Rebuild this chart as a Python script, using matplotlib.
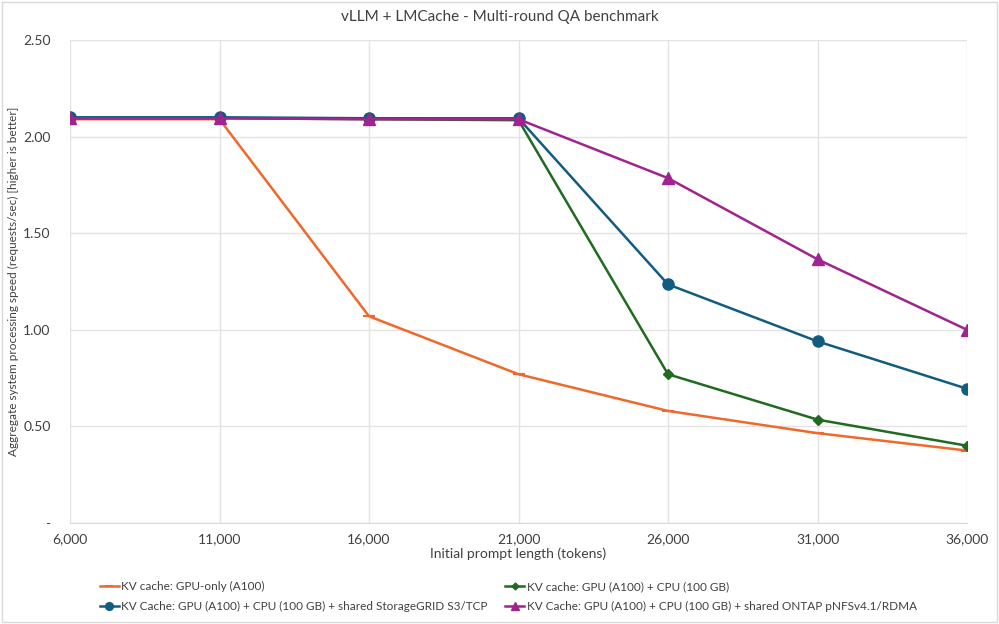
import matplotlib.pyplot as plt
from matplotlib.ticker import FuncFormatter

# Data
prompt_len = [6000, 11000, 16000, 21000, 26000, 31000, 36000]
gpu_only = [2.09, 2.09, 1.07, 0.77, 0.58, 0.465, 0.375]
gpu_cpu = [2.095, 2.095, 2.09, 2.085, 0.77, 0.535, 0.40]
gpu_cpu_s3 = [2.10, 2.10, 2.095, 2.095, 1.235, 0.94, 0.695]
gpu_cpu_ontap = [2.095, 2.095, 2.09, 2.09, 1.785, 1.365, 1.0]

labels = [
    "KV cache: GPU-only (A100)",
    "KV cache: GPU (A100) + CPU (100 GB)",
    "KV Cache: GPU (A100) + CPU (100 GB) + shared StorageGRID S3/TCP",
    "KV Cache: GPU (A100) + CPU (100 GB) + shared ONTAP pNFSv4.1/RDMA",
]

plt.rcParams["font.family"] = ["Lato", "DejaVu Sans"]
txt_col = "#404040"

fig = plt.figure(figsize=(9.99, 6.24), dpi=100)
ax = fig.add_axes([70 / 999, 1 - 523 / 624, 897 / 999, 483 / 624])

l1, = ax.plot(prompt_len, gpu_only, color="#F0682A", lw=1.8, marker="_", ms=8, mew=1.5, label=labels[0])
l2, = ax.plot(prompt_len, gpu_cpu, color="#1F6B1F", lw=1.8, marker="D", ms=5, label=labels[1])
l3, = ax.plot(prompt_len, gpu_cpu_s3, color="#125C82", lw=1.8, marker="o", ms=8, label=labels[2])
l4, = ax.plot(prompt_len, gpu_cpu_ontap, color="#A0238F", lw=1.8, marker="^", ms=8, label=labels[3])

ax.set_xlim(6000, 36000)
ax.set_ylim(0, 2.5)
ax.set_xticks(prompt_len)
ax.set_yticks([0, 0.5, 1.0, 1.5, 2.0, 2.5])
ax.xaxis.set_major_formatter(FuncFormatter(lambda v, p: f"{int(v):,}"))
ax.yaxis.set_major_formatter(FuncFormatter(lambda v, p: "-" if v == 0 else f"{v:.2f}"))
ax.grid(True, color="#E3E3E3", lw=1)
ax.set_axisbelow(True)
for s in ["top", "right", "left"]:
    ax.spines[s].set_visible(False)
ax.spines["bottom"].set_color("#D9D9D9")
ax.tick_params(length=0, labelsize=10, colors=txt_col, pad=14)
ax.tick_params(axis="x", pad=7)

ax.set_xlabel("Initial prompt length (tokens)", fontsize=10, color=txt_col, labelpad=2)
ax.set_ylabel("Aggregate system processing speed (requests/sec) [higher is better]",
              fontsize=8.5, color=txt_col, labelpad=3)
fig.text(0.5, 1 - 17 / 624, "vLLM + LMCache - Multi-round QA benchmark", ha="center", va="center",
         fontsize=11, color=txt_col)

# column-major order: orange, blue | green, purple
leg = fig.legend([l1, l3, l2, l4], [labels[0], labels[2], labels[1], labels[3]],
                 loc="upper left", bbox_to_anchor=(100 / 999, 1 - 581 / 624), ncol=2,
                 frameon=False, fontsize=8.5, markerscale=0.7,
                 handlelength=1.6, handletextpad=0.2, columnspacing=1.5, labelspacing=0.75,
                 borderaxespad=0, borderpad=0)
for t in leg.get_texts():
    t.set_color(txt_col)

# light frame around the whole chart
fig.patches.append(plt.Rectangle((0.002, 0.003), 0.996, 0.994, transform=fig.transFigure,
                                 fill=False, edgecolor="#D9D9D9", lw=1))

plt.savefig("out.png", dpi=100)
